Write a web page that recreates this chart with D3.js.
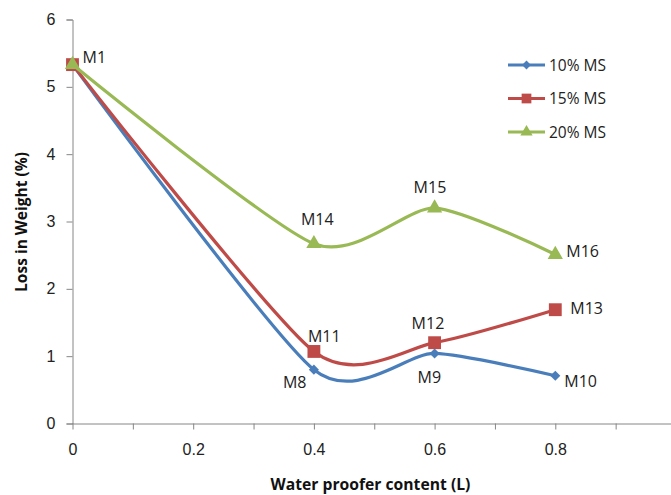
<!DOCTYPE html>
<html>
<head>
<meta charset="utf-8">
<script src="https://cdn.jsdelivr.net/npm/d3@7"></script>
<style>
  body { margin: 0; background: #fff; }
  svg { display: block; font-family: "Open Sans", "Noto Sans", sans-serif; }
</style>
</head>
<body>
<svg id="chart" width="671" height="495"></svg>
<script>
// Water proofer content (L) on x; loss in weight (%) on y
const xValues = [0, 0.4, 0.6, 0.8];
const ms10 = [5.33, 0.80, 1.04, 0.71];
const ms15 = [5.33, 1.07, 1.20, 1.69];
const ms20 = [5.33, 2.67, 3.20, 2.51];
const seriesNames = ["10% MS", "15% MS", "20% MS"];
const mixLabels10 = ["M1", "M8", "M9", "M10"];
const mixLabels15 = ["", "M11", "M12", "M13"];
const mixLabels20 = ["", "M14", "M15", "M16"];
const xTicks = [0, 0.2, 0.4, 0.6, 0.8];
const xMinorTicks = [0, 0.1, 0.2, 0.3, 0.4, 0.5, 0.6, 0.7, 0.8, 0.9];
const yTicks = [0, 1, 2, 3, 4, 5, 6];

const svg = d3.select("#chart");
const x = d3.scaleLinear().domain([0, 1]).range([72.5, 676]);
const y = d3.scaleLinear().domain([0, 6]).range([423.5, 19.5]);
const axisColor = "#868686";

// y axis
const yAxis = svg.append("g").attr("transform", `translate(${x(0)},0)`)
  .call(d3.axisLeft(y).tickValues(yTicks).tickSize(6).tickPadding(11).tickFormat(d3.format("d")));
yAxis.select(".domain").attr("stroke", axisColor);
yAxis.selectAll(".tick line").attr("stroke", axisColor);
yAxis.selectAll(".tick text").attr("font-size", 16).attr("fill", "#222");

// x axis
const xAxis = svg.append("g").attr("transform", `translate(0,${y(0)})`)
  .call(d3.axisBottom(x).tickValues(xMinorTicks).tickSize(6).tickPadding(14)
    .tickFormat(d => xTicks.some(t => Math.abs(t - d) < 1e-9) ? d3.format("")(+d.toFixed(1)) : ""));
xAxis.select(".domain").attr("stroke", axisColor).attr("d", `M${x(0)},0.5H${x(1)}`);
xAxis.selectAll(".tick line").attr("stroke", axisColor);
xAxis.selectAll(".tick text").attr("font-size", 16).attr("fill", "#222");

// axis titles
svg.append("text").attr("x", 370.5).attr("y", 490).attr("text-anchor", "middle")
  .attr("font-size", 15.7).attr("font-weight", "bold").attr("fill", "#111")
  .text("Water proofer content (L)");
svg.append("text").attr("transform", "translate(27,222) rotate(-90)").attr("text-anchor", "middle")
  .attr("font-size", 15.5).attr("font-weight", "bold").attr("fill", "#111")
  .text("Loss in Weight (%)");

const series = [
  { name: seriesNames[0], values: ms10, color: "#4A7EBB", marker: "diamond", labels: mixLabels10 },
  { name: seriesNames[1], values: ms15, color: "#BE4B48", marker: "square", labels: mixLabels15 },
  { name: seriesNames[2], values: ms20, color: "#98B954", marker: "triangle", labels: mixLabels20 }
];

const symbolType = { diamond: d3.symbolDiamond2, square: d3.symbolSquare, triangle: d3.symbolTriangle };
const symbolSize = { diamond: 65, square: 165, triangle: 100 };
const legendSize = { diamond: 50, square: 95, triangle: 65 };

const line = d3.line().x(d => x(d[0])).y(d => y(d[1])).curve(d3.curveCardinal.tension(0.3));

series.forEach(s => {
  const pts = xValues.map((v, i) => [v, s.values[i]]);
  svg.append("path").datum(pts).attr("d", line).attr("fill", "none")
    .attr("stroke", s.color).attr("stroke-width", 3.2);
  svg.append("g").selectAll("path").data(pts).join("path")
    .attr("transform", d => `translate(${x(d[0])},${y(d[1])})`)
    .attr("d", d3.symbol().type(symbolType[s.marker]).size(symbolSize[s.marker])).attr("fill", s.color);
});

// point labels: [dx to text start, dy to baseline]
const labelOffsets = {
  M1: [10, -2], M8: [-31, 18], M9: [-17, 30], M10: [9, 11],
  M11: [-6, -9], M12: [-23, -14], M13: [15, 4], M14: [-13, -19], M15: [-21, -15], M16: [11, 3]
};
series.forEach(s => {
  xValues.forEach((v, i) => {
    const lab = s.labels[i];
    if (!lab) return;
    const o = labelOffsets[lab];
    svg.append("text").attr("x", x(v) + o[0]).attr("y", y(s.values[i]) + o[1])
      .attr("font-size", 16).attr("fill", "#222").text(lab);
  });
});

// legend
const legend = svg.append("g");
series.forEach((s, i) => {
  const ly = 65 + i * 33.5;
  legend.append("line").attr("x1", 508).attr("x2", 545).attr("y1", ly).attr("y2", ly)
    .attr("stroke", s.color).attr("stroke-width", 3.2);
  legend.append("path").attr("transform", `translate(526.5,${ly})`)
    .attr("d", d3.symbol().type(symbolType[s.marker]).size(legendSize[s.marker])())
    .attr("fill", s.color);
  legend.append("text").attr("x", 549).attr("y", ly + 5.5).attr("font-size", 15.5).attr("fill", "#222").text(s.name);
});
</script>
</body>
</html>
